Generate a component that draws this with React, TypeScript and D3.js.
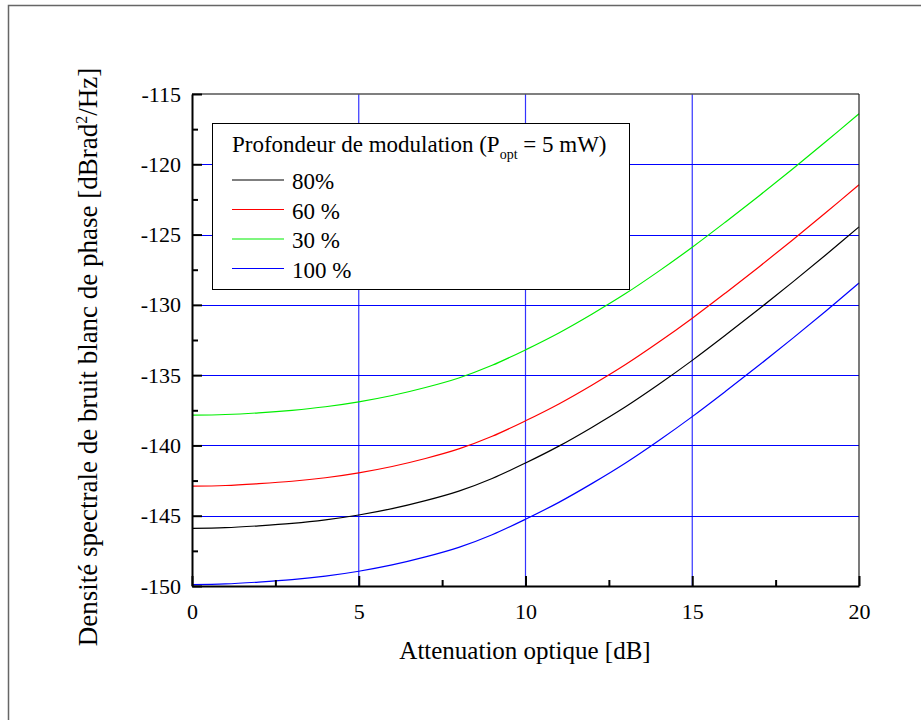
import * as d3 from 'd3';
import { useEffect, useRef } from 'react';

// attenuation in dB
const attenuation = [0, 1, 2, 3, 4, 5, 6, 7, 8, 9, 10, 11, 12, 13, 14, 15, 16, 17, 18, 19, 20];

const black80 = [-145.9, -145.85, -145.72, -145.55, -145.3, -144.95, -144.5, -143.93, -143.25, -142.35, -141.25, -140.05, -138.7, -137.25, -135.65, -133.95, -132.15, -130.3, -128.4, -126.45, -124.45];
const red60 = [-142.9, -142.85, -142.72, -142.55, -142.3, -141.95, -141.5, -140.93, -140.25, -139.35, -138.25, -137.05, -135.7, -134.25, -132.65, -130.95, -129.15, -127.3, -125.4, -123.45, -121.45];
const green30 = [-137.85, -137.8, -137.68, -137.5, -137.25, -136.9, -136.45, -135.88, -135.2, -134.3, -133.2, -132.0, -130.65, -129.2, -127.6, -125.9, -124.1, -122.25, -120.35, -118.4, -116.4];
const blue100 = [-149.9, -149.85, -149.72, -149.55, -149.3, -148.95, -148.5, -147.93, -147.25, -146.35, -145.25, -144.05, -142.7, -141.25, -139.65, -137.95, -136.15, -134.3, -132.4, -130.45, -128.45];

const seriesNames = ['80%', '60 %', '30 %', '100 %'];
const seriesColors = ['#000000', '#ff0000', '#00ee00', '#0000ff'];
const seriesValues = [black80, red60, green30, blue100];

const xTicks = [0, 5, 10, 15, 20];
const xMinor = [2.5, 7.5, 12.5, 17.5];
const yTicks = [-150, -145, -140, -135, -130, -125, -120, -115];
const yMinor = [-147.5, -142.5, -137.5, -132.5, -127.5, -122.5, -117.5];

const FONT = 'Liberation Serif, Times New Roman, serif';

export default function App() {
  const ref = useRef<SVGSVGElement>(null);

  useEffect(() => {
    const svg = d3.select(ref.current);
    svg.selectAll('*').remove();

    const left = 192, right = 859, top = 94, bottom = 586;
    const x = d3.scaleLinear().domain([0, 20]).range([left, right]);
    const y = d3.scaleLinear().domain([-150, -115]).range([bottom, top]);

    //outer frame
    svg.append('rect')
      .attr('x', 8.5).attr('y', 5.5).attr('width', 930).attr('height', 730)
      .attr('fill', 'none').attr('stroke', '#666').attr('stroke-width', 1.5);

    //grid lines
    svg.append('g').selectAll('line')
      .data(xTicks.slice(1, -1))
      .join('line')
      .attr('x1', (d) => x(d)).attr('x2', (d) => x(d))
      .attr('y1', top).attr('y2', bottom)
      .attr('stroke', '#3333ff').attr('stroke-width', 1.2);
    svg.append('g').selectAll('line')
      .data(yTicks.slice(1, -1))
      .join('line')
      .attr('x1', left).attr('x2', right)
      .attr('y1', (d) => Math.round(y(d)) + 0.5).attr('y2', (d) => Math.round(y(d)) + 0.5)
      .attr('stroke', '#0000ff').attr('stroke-width', 1);

    //curves
    const line = d3.line<number>()
      .x((_d, i) => x(attenuation[i]))
      .y((d) => y(d))
      .curve(d3.curveCatmullRom);
    seriesValues.forEach((vals, k) => {
      svg.append('path')
        .datum(vals)
        .attr('fill', 'none')
        .attr('stroke', seriesColors[k])
        .attr('stroke-width', 1.2)
        .attr('d', line);
    });

    //frame of plot
    svg.append('line').attr('x1', left).attr('x2', right).attr('y1', top).attr('y2', top)
      .attr('stroke', '#555').attr('stroke-width', 1.5);
    svg.append('line').attr('x1', right).attr('x2', right).attr('y1', top).attr('y2', bottom)
      .attr('stroke', '#222').attr('stroke-width', 1.2);

    //bottom axis, ticks inward
    const xAxis = svg.append('g').attr('transform', `translate(0,${bottom})`);
    xAxis.call(
      d3.axisBottom(x).tickValues(xTicks).tickSize(-10).tickPadding(17).tickSizeOuter(0)
        .tickFormat((d) => String(d)),
    );
    xAxis.append('g').call(
      d3.axisBottom(x).tickValues(xMinor).tickSize(-6).tickFormat(() => '').tickSizeOuter(0),
    ).call((g) => g.select('.domain').remove());
    xAxis.attr('font-family', FONT).attr('font-size', 22);
    xAxis.selectAll('.domain').attr('stroke', '#000').attr('stroke-width', 2);
    xAxis.selectAll('.tick line').attr('stroke', '#000').attr('stroke-width', 2);
    xAxis.selectAll('.tick text').attr('fill', '#000');

    //left axis, ticks inward
    const yAxis = svg.append('g').attr('transform', `translate(${left},0)`);
    yAxis.call(
      d3.axisLeft(y).tickValues(yTicks).tickSize(-10).tickPadding(11).tickSizeOuter(0)
        .tickFormat((d) => String(d)),
    );
    yAxis.append('g').call(
      d3.axisLeft(y).tickValues(yMinor).tickSize(-6).tickFormat(() => '').tickSizeOuter(0),
    ).call((g) => g.select('.domain').remove());
    yAxis.attr('font-family', FONT).attr('font-size', 22);
    yAxis.selectAll('.domain').attr('stroke', '#000').attr('stroke-width', 2);
    yAxis.selectAll('.tick line').attr('stroke', '#000').attr('stroke-width', 2);
    yAxis.selectAll('.tick text').attr('fill', '#000');

    //axis titles
    svg.append('text')
      .attr('x', 525).attr('y', 659)
      .attr('text-anchor', 'middle')
      .attr('font-family', FONT).attr('font-size', 25)
      .text('Attenuation optique [dB]');

    const yTitle = svg.append('text')
      .attr('transform', 'translate(97,357) rotate(-90)')
      .attr('text-anchor', 'middle')
      .attr('font-family', FONT).attr('font-size', 27);
    yTitle.append('tspan').text('Densité spectrale de bruit blanc de phase [dBrad');
    yTitle.append('tspan').attr('font-size', 16).attr('dy', -10).text('2');
    yTitle.append('tspan').attr('dy', 10).text('/Hz]');

    //legend
    const lg = svg.append('g').attr('font-family', FONT);
    lg.append('rect')
      .attr('x', 212.5).attr('y', 123.5).attr('width', 417).attr('height', 166)
      .attr('fill', '#fff').attr('stroke', '#000').attr('stroke-width', 1);
    const title = lg.append('text')
      .attr('x', 232).attr('y', 152)
      .attr('font-size', 23);
    title.append('tspan').text('Profondeur de modulation (P');
    title.append('tspan').attr('font-size', 14).attr('dy', 7).text('opt');
    title.append('tspan').attr('dy', -7).text(' = 5 mW)');
    seriesNames.forEach((name, k) => {
      const yy = 180 + k * 29.5;
      lg.append('line')
        .attr('x1', 232).attr('x2', 284).attr('y1', yy).attr('y2', yy)
        .attr('stroke', seriesColors[k]).attr('stroke-width', 1.2);
      lg.append('text')
        .attr('x', 292).attr('y', yy + 9)
        .attr('font-size', 23)
        .text(name);
    });
  }, []);

  return (
    <svg
      ref={ref}
      width={921}
      height={720}
      style={{ position: 'absolute', left: 0, top: 0, background: '#fff', fontFamily: FONT }}
    />
  );
}
